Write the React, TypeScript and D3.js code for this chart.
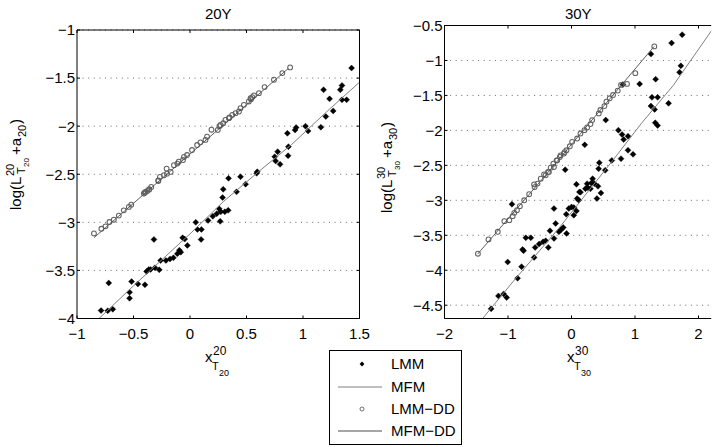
import React from "react";
import * as d3 from "d3";

const FONT = "'Liberation Sans', Arial, Helvetica, sans-serif";

// ---------------- 20Y panel data ----------------
const lmm20: [number, number][] = [
  [-0.787, -3.918], [-0.728, -3.92], [-0.683, -3.904], [-0.719, -3.63], [-0.535, -3.79],
  [-0.535, -3.727], [-0.517, -3.616], [-0.461, -3.64], [-0.399, -3.65], [-0.384, -3.51],
  [-0.365, -3.49], [-0.349, -3.49], [-0.319, -3.178], [-0.31, -3.473], [-0.272, -3.494],
  [-0.26, -3.397], [-0.213, -3.397], [-0.177, -3.38], [-0.147, -3.369], [-0.112, -3.327],
  [-0.094, -3.29], [-0.082, -3.31], [-0.065, -3.16], [-0.047, -3.174], [-0.023, -3.24],
  [0.051, -3.0], [0.066, -3.074], [0.101, -3.074], [0.098, -3.178], [0.16, -2.98],
  [0.202, -2.938], [0.237, -2.91], [0.258, -2.858], [0.273, -2.89], [0.267, -2.99],
  [0.288, -2.743], [0.294, -2.656], [0.308, -2.89], [0.338, -2.875], [0.341, -2.542],
  [0.412, -2.683], [0.447, -2.526], [0.492, -2.603], [0.595, -2.474], [0.59, -2.49],
  [0.75, -2.317], [0.758, -2.363], [0.776, -2.265], [0.797, -2.397], [0.862, -2.074],
  [0.871, -2.213], [0.868, -2.307], [0.93, -2.04], [0.939, -2.015], [1.022, -2.0],
  [1.045, -2.05], [1.158, -2.011], [1.202, -1.9], [1.267, -1.841], [1.182, -1.622],
  [1.235, -1.716], [1.33, -1.622], [1.345, -1.577], [1.345, -1.726], [1.386, -1.726],
  [1.43, -1.396],
];
const mfm20X = [-0.85, -0.5, 0, 0.3, 0.6, 0.9, 1.2, 1.55];
const mfm20Y = [-4.05, -3.66, -3.12, -2.78, -2.48, -2.19, -1.86, -1.49];
const lmmdd20: [number, number][] = [
  [-0.85, -3.115], [-0.784, -3.067], [-0.748, -3.042], [-0.713, -2.997], [-0.674, -2.973],
  [-0.63, -2.93], [-0.586, -2.875], [-0.541, -2.84], [-0.52, -2.816], [-0.408, -2.7],
  [-0.4, -2.69], [-0.393, -2.684], [-0.378, -2.674], [-0.364, -2.66], [-0.36, -2.655],
  [-0.343, -2.632], [-0.281, -2.563], [-0.28, -2.57], [-0.266, -2.528], [-0.23, -2.51],
  [-0.207, -2.441], [-0.204, -2.494], [-0.171, -2.476], [-0.142, -2.406], [-0.112, -2.389],
  [-0.1, -2.37], [-0.062, -2.352], [-0.053, -2.32], [-0.026, -2.3], [0.018, -2.248],
  [0.063, -2.196], [0.092, -2.168], [0.137, -2.143], [0.151, -2.109], [0.19, -2.037],
  [0.246, -2.039], [0.26, -2.0], [0.27, -1.987], [0.294, -1.97], [0.314, -1.935],
  [0.344, -1.917], [0.35, -1.91], [0.374, -1.883], [0.403, -1.865], [0.433, -1.848],
  [0.447, -1.813], [0.477, -1.778], [0.521, -1.743], [0.536, -1.709], [0.54, -1.72],
  [0.551, -1.698], [0.566, -1.681], [0.61, -1.657], [0.66, -1.594], [0.743, -1.517],
  [0.817, -1.448], [0.886, -1.389],
];
const mfmdd20X = [-0.85, 0.0, 0.87];
const mfmdd20Y = [-3.16, -2.29, -1.4];

// ---------------- 30Y panel data ----------------
const lmm30: [number, number][] = [
  [-1.266, -4.552], [-1.151, -4.367], [-1.068, -4.338], [-1.021, -4.391], [-0.849, -4.115],
  [-0.786, -3.949], [-1.005, -3.882], [-0.771, -3.702], [-0.755, -3.721], [-0.719, -3.536],
  [-0.641, -3.536], [-0.589, -3.816], [-0.573, -3.673], [-0.51, -3.626], [-0.448, -3.593],
  [-0.406, -3.578], [-0.365, -3.673], [-0.339, -3.436], [-0.276, -3.545], [-0.25, -3.331],
  [-0.198, -3.45], [-0.161, -3.417], [-0.13, -3.388], [-0.078, -3.474], [-0.276, -3.118],
  [-0.938, -3.056], [-0.083, -3.198], [-0.042, -3.118], [0, -3.094], [0.036, -3.103],
  [0.078, -3.151], [0.036, -3.213], [0.089, -2.975], [0.115, -2.999], [0.078, -2.771],
  [0.125, -2.88], [0.219, -2.833], [0.255, -2.818], [0.313, -2.752], [0.333, -2.69],
  [0.359, -2.761], [0.417, -2.8], [0.464, -2.894], [0.401, -2.975], [0.427, -2.548],
  [0.438, -2.462], [0.531, -2.571], [0.635, -2.429], [-0.099, -2.562], [0.141, -2.883],
  [0.246, -2.763], [0.298, -2.835], [0.209, -2.207], [0.539, -1.853], [0.738, -1.997],
  [0.796, -2.059], [0.89, -2.083], [0.822, -2.131], [0.89, -2.284], [0.969, -2.342],
  [0.78, -2.404], [0.81, -1.344], [1.073, -1.335], [1.251, -0.909], [1.325, -1.268],
  [1.267, -1.527], [1.356, -1.527], [1.251, -1.652], [1.309, -1.7], [1.529, -1.613],
  [1.319, -1.891], [1.356, -1.93], [1.576, -0.751], [1.743, -0.631], [1.722, -1.077],
  [1.702, -1.168],
];
const mfm30X = [-1.5, -0.9, -0.2, 0.65, 1.1, 1.6, 2.3];
const mfm30Y = [-4.8, -4.14, -3.4, -2.43, -1.9, -1.36, -0.45];
const lmmdd30: [number, number][] = [
  [-1.474, -3.764], [-1.307, -3.559], [-1.161, -3.45], [-1.057, -3.298], [-0.979, -3.284],
  [-0.927, -3.227], [-0.901, -3.179], [-0.859, -3.141], [-0.813, -3.084], [-0.745, -2.999],
  [-0.667, -2.913], [-0.589, -2.771], [-0.581, -2.811], [-0.536, -2.761], [-0.484, -2.69],
  [-0.432, -2.628], [-0.408, -2.643], [-0.37, -2.595], [-0.356, -2.596], [-0.328, -2.533],
  [-0.286, -2.476], [-0.277, -2.524], [-0.234, -2.429], [-0.225, -2.428], [-0.183, -2.38],
  [-0.172, -2.357], [-0.12, -2.332], [-0.109, -2.31], [-0.079, -2.284], [-0.026, -2.227],
  [0.01, -2.164], [0.089, -2.116], [0.141, -2.045], [0.204, -1.997], [0.246, -1.958],
  [0.298, -1.91], [0.325, -1.853], [0.429, -1.757], [0.455, -1.709], [0.518, -1.652],
  [0.55, -1.589], [0.602, -1.541], [0.654, -1.494], [0.728, -1.431], [0.78, -1.35],
  [0.874, -1.335], [1.005, -1.182], [1.304, -0.799],
];
const mfmdd30X = [-1.48, -0.5, 0.5, 1.3];
const mfmdd30Y = [-3.77, -2.74, -1.66, -0.8];

// ---------------- ticks / labels ----------------
const xTicks20 = [-1, -0.5, 0, 0.5, 1, 1.5];
const yTicks20 = [-1, -1.5, -2, -2.5, -3, -3.5, -4];
const xTicks30 = [-2, -1, 0, 1, 2];
const yTicks30 = [-0.5, -1, -1.5, -2, -2.5, -3, -3.5, -4, -4.5];
const legendLabels = ["LMM", "MFM", "LMM\u2212DD", "MFM\u2212DD"];

const MFM_COLOR = "#808080";
const MFMDD_COLOR = "#4d4d4d";
const CIRCLE_COLOR = "#626262";

const fmt = (v: number) => (v < 0 ? "\u2212" + String(Math.abs(v)) : String(v));

function diamondPath(cx: number, cy: number, r: number) {
  return `M${cx},${cy - r}L${cx + r},${cy}L${cx},${cy + r}L${cx - r},${cy}Z`;
}

type PanelProps = {
  id: string;
  px: [number, number];
  py: [number, number];
  xDomain: [number, number];
  yDomain: [number, number];
  xTicks: number[];
  yTicks: number[];
  title: string;
  num: string;
  lmm: [number, number][];
  mfmX: number[];
  mfmY: number[];
  lmmdd: [number, number][];
  mfmddX: number[];
  mfmddY: number[];
  rightBorder: boolean;
  yLabelPos: [number, number];
  xLabelX: number;
};

function Panel(p: PanelProps) {
  const x = d3.scaleLinear().domain(p.xDomain).range(p.px);
  const y = d3.scaleLinear().domain(p.yDomain).range([p.py[1], p.py[0]]);
  const [x0, x1] = p.px;
  const [y0, y1] = p.py;
  const line = d3
    .line<[number, number]>()
    .x((d) => x(d[0]))
    .y((d) => y(d[1]));
  const zip = (a: number[], b: number[]) => a.map((v, i) => [v, b[i]] as [number, number]);
  const tl = 3;
  const [lx, ly] = p.yLabelPos;
  return (
    <g>
      <defs>
        <clipPath id={p.id}>
          <rect x={x0} y={y0} width={x1 - x0} height={y1 - y0} />
        </clipPath>
      </defs>
      {p.yTicks.map((t) => (
        <line
          key={"g" + t}
          x1={x0}
          x2={x1}
          y1={y(t)}
          y2={y(t)}
          stroke="#222"
          strokeWidth={0.9}
          strokeDasharray="1 4.6"
          opacity={0.75}
        />
      ))}
      <g clipPath={`url(#${p.id})`}>
        {p.lmm.map((d, i) => (
          <path key={"d" + i} d={diamondPath(x(d[0]), y(d[1]), 3)} fill="#000" stroke="#000" strokeWidth={0.4} />
        ))}
        <path d={line(zip(p.mfmX, p.mfmY)) || ""} fill="none" stroke={MFM_COLOR} strokeWidth={1} />
        {p.lmmdd.map((d, i) => (
          <circle key={"c" + i} cx={x(d[0])} cy={y(d[1])} r={2.4} fill="none" stroke={CIRCLE_COLOR} strokeWidth={1.05} />
        ))}
        <path d={line(zip(p.mfmddX, p.mfmddY)) || ""} fill="none" stroke={MFMDD_COLOR} strokeWidth={0.9} />
      </g>
      <line x1={x0} x2={x0} y1={y0} y2={y1} stroke="#000" strokeWidth={1} />
      <line x1={x0} x2={x1} y1={y1} y2={y1} stroke="#000" strokeWidth={1} />
      <line x1={x0} x2={x1} y1={y0} y2={y0} stroke="#000" strokeWidth={1} />
      {p.rightBorder && <line x1={x1} x2={x1} y1={y0} y2={y1} stroke="#000" strokeWidth={1} />}
      {p.xTicks.map((t) => (
        <g key={"xt" + t}>
          <line x1={x(t)} x2={x(t)} y1={y1} y2={y1 - tl} stroke="#000" />
          <line x1={x(t)} x2={x(t)} y1={y0} y2={y0 + tl} stroke="#000" />
          <text x={x(t)} y={y1 + 20} textAnchor="middle" fontSize={15} fontFamily={FONT}>
            {fmt(t)}
          </text>
        </g>
      ))}
      {p.yTicks.map((t) => (
        <g key={"yt" + t}>
          <line x1={x0} x2={x0 + tl} y1={y(t)} y2={y(t)} stroke="#000" />
          {p.rightBorder && <line x1={x1} x2={x1 - tl} y1={y(t)} y2={y(t)} stroke="#000" />}
          <text x={x0 - 2} y={y(t)} dy="0.36em" textAnchor="end" fontSize={15} fontFamily={FONT}>
            {fmt(t)}
          </text>
        </g>
      ))}
      <text x={(x0 + (p.rightBorder ? x1 : 712)) / 2} y={19} textAnchor="middle" fontSize={15} fontFamily={FONT}>
        {p.title}
      </text>
      <g fontFamily={FONT}>
        <text x={p.xLabelX} y={362} fontSize={15}>x</text>
        <text x={p.xLabelX + 8} y={355} fontSize={12}>{p.num}</text>
        <text x={p.xLabelX + 7} y={370} fontSize={11}>T</text>
        <text x={p.xLabelX + 14} y={376} fontSize={9}>{p.num}</text>
      </g>
      <g transform={`translate(${lx},${ly}) rotate(-90)`} fontFamily={FONT}>
        <text x={0} y={0} fontSize={15}>log(L</text>
        <text x={34} y={-7} fontSize={11}>{p.num}</text>
        <text x={36} y={4} fontSize={11}>T</text>
        <text x={43} y={8} fontSize={8}>{p.num}</text>
        <text x={55} y={0} fontSize={15}>+a</text>
        <text x={73} y={5} fontSize={11}>{p.num}</text>
        <text x={86} y={0} fontSize={15}>)</text>
      </g>
    </g>
  );
}

function Legend() {
  const bx = 329.5, by = 350.5, bw = 132, bh = 94;
  const rows = [364, 387, 409, 431];
  return (
    <g fontFamily={FONT}>
      <rect x={bx} y={by} width={bw} height={bh} fill="#fff" stroke="#000" strokeWidth={1} />
      {legendLabels.map((lab, i) => (
        <text key={lab} x={391} y={rows[i]} dy="0.36em" fontSize={15}>
          {lab}
        </text>
      ))}
      <path d={diamondPath(362, rows[0], 2.4)} fill="#000" />
      <line x1={338} x2={382} y1={rows[1]} y2={rows[1]} stroke={MFM_COLOR} strokeWidth={1} />
      <circle cx={362} cy={rows[2]} r={2} fill="none" stroke={CIRCLE_COLOR} strokeWidth={0.9} />
      <line x1={338} x2={382} y1={rows[3]} y2={rows[3]} stroke={MFMDD_COLOR} strokeWidth={1} />
    </g>
  );
}

export default function App() {
  return (
    <svg
      width={712}
      height={447}
      viewBox="0 0 712 447"
      style={{ position: "absolute", left: 0, top: 0, background: "#fff" }}
    >
      <rect x={0} y={0} width={712} height={447} fill="#fff" />
      <Panel
        id="clip20"
        px={[77, 359.5]}
        py={[30, 318.5]}
        xDomain={[-1, 1.5]}
        yDomain={[-4, -1]}
        xTicks={xTicks20}
        yTicks={yTicks20}
        title="20Y"
        num="20"
        lmm={lmm20}
        mfmX={mfm20X}
        mfmY={mfm20Y}
        lmmdd={lmmdd20}
        mfmddX={mfmdd20X}
        mfmddY={mfmdd20Y}
        rightBorder={true}
        yLabelPos={[21, 210]}
        xLabelX={205}
      />
      <Panel
        id="clip30"
        px={[444.5, 711.2]}
        py={[25.5, 318.5]}
        xDomain={[-2, 2.2]}
        yDomain={[-4.69, -0.5]}
        xTicks={xTicks30}
        yTicks={yTicks30}
        title="30Y"
        num="30"
        lmm={lmm30}
        mfmX={mfm30X}
        mfmY={mfm30Y}
        lmmdd={lmmdd30}
        mfmddX={mfmdd30X}
        mfmddY={mfmdd30Y}
        rightBorder={false}
        yLabelPos={[392, 213]}
        xLabelX={567}
      />
      <Legend />
    </svg>
  );
}
